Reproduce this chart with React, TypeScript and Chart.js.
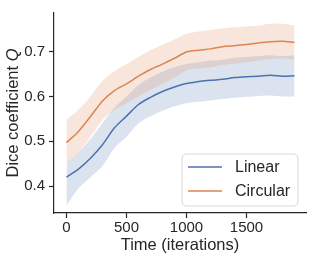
import React, { useEffect, useRef } from "react";
import { Chart, registerables } from "chart.js";

Chart.register(...registerables);

const iterations = [0, 100, 200, 300, 400, 500, 600, 700, 800, 900, 1000, 1100, 1200, 1300, 1400, 1500, 1600, 1700, 1800, 1900];
const linearMean = [0.420, 0.438, 0.462, 0.492, 0.530, 0.556, 0.582, 0.598, 0.611, 0.621, 0.629, 0.633, 0.636, 0.638, 0.642, 0.644, 0.645, 0.647, 0.645, 0.646];
const linearUpper = [0.452, 0.475, 0.505, 0.540, 0.575, 0.600, 0.625, 0.642, 0.655, 0.665, 0.672, 0.676, 0.680, 0.682, 0.686, 0.688, 0.690, 0.692, 0.690, 0.692];
const linearLower = [0.357, 0.395, 0.420, 0.445, 0.485, 0.510, 0.540, 0.556, 0.568, 0.578, 0.585, 0.588, 0.591, 0.594, 0.597, 0.599, 0.601, 0.602, 0.600, 0.600];
const circularMean = [0.497, 0.522, 0.555, 0.590, 0.613, 0.628, 0.645, 0.660, 0.672, 0.685, 0.699, 0.703, 0.706, 0.711, 0.713, 0.716, 0.719, 0.722, 0.723, 0.720];
const circularUpper = [0.548, 0.570, 0.600, 0.635, 0.656, 0.672, 0.688, 0.703, 0.715, 0.727, 0.740, 0.745, 0.748, 0.752, 0.754, 0.756, 0.758, 0.762, 0.762, 0.758];
const circularLower = [0.452, 0.475, 0.510, 0.548, 0.570, 0.585, 0.600, 0.615, 0.628, 0.642, 0.658, 0.662, 0.665, 0.670, 0.673, 0.676, 0.680, 0.683, 0.685, 0.682];

const seriesNames = ["Linear", "Circular"];
const xTicks = [0, 500, 1000, 1500];
const yTicks = [0.4, 0.5, 0.6, 0.7];
const xTitle = "Time (iterations)";
const yTitleMain = "Dice coefficient ";
const yTitleVar = "Q";

const BLUE = "#4c72b0";
const ORANGE = "#dd8452";
const INK = "#262626";
const FONT = "'Liberation Sans', Arial, sans-serif";

const pts = (arr: number[]) => arr.map((v, i) => ({ x: iterations[i], y: v }));

export default function App() {
  const ref = useRef<HTMLCanvasElement>(null);
  useEffect(() => {
    document.body.style.margin = "0";
    const canvas = ref.current!;
    const overlay = {
      id: "overlay",
      afterDraw(chart: any) {
        const ctx = chart.ctx as CanvasRenderingContext2D;
        const area = chart.chartArea;
        ctx.save();
        ctx.fillStyle = INK;
        ctx.font = `16.5px ${FONT}`;
        ctx.textAlign = "center";
        ctx.textBaseline = "middle";
        ctx.fillText(xTitle, (area.left + area.right) / 2, 245);
        ctx.translate(13, (area.top + area.bottom) / 2);
        ctx.rotate(-Math.PI / 2);
        ctx.font = `16.5px ${FONT}`;
        const w1 = ctx.measureText(yTitleMain).width;
        ctx.font = `italic 16.5px ${FONT}`;
        const w2 = ctx.measureText(yTitleVar).width;
        const start = -(w1 + w2) / 2;
        ctx.textAlign = "left";
        ctx.font = `16.5px ${FONT}`;
        ctx.fillText(yTitleMain, start, 0);
        ctx.font = `italic 16.5px ${FONT}`;
        ctx.fillText(yTitleVar, start + w1, 0);
        ctx.restore();

        ctx.save();
        const lx = 182, ly = 154, lw = 116, lh = 52, r = 4;
        ctx.beginPath();
        ctx.moveTo(lx + r, ly);
        ctx.lineTo(lx + lw - r, ly);
        ctx.quadraticCurveTo(lx + lw, ly, lx + lw, ly + r);
        ctx.lineTo(lx + lw, ly + lh - r);
        ctx.quadraticCurveTo(lx + lw, ly + lh, lx + lw - r, ly + lh);
        ctx.lineTo(lx + r, ly + lh);
        ctx.quadraticCurveTo(lx, ly + lh, lx, ly + lh - r);
        ctx.lineTo(lx, ly + r);
        ctx.quadraticCurveTo(lx, ly, lx + r, ly);
        ctx.closePath();
        ctx.fillStyle = "rgba(255,255,255,0.8)";
        ctx.fill();
        ctx.strokeStyle = "#d9d9d9";
        ctx.lineWidth = 1;
        ctx.stroke();
        const colors = [BLUE, ORANGE];
        const ys = [167, 191];
        ctx.font = `16px ${FONT}`;
        ctx.textAlign = "left";
        ctx.textBaseline = "middle";
        seriesNames.forEach((name, i) => {
          ctx.strokeStyle = colors[i];
          ctx.lineWidth = 1.5;
          ctx.beginPath();
          ctx.moveTo(188, ys[i]);
          ctx.lineTo(222, ys[i]);
          ctx.stroke();
          ctx.fillStyle = INK;
          ctx.fillText(name, 235, ys[i] + 1);
        });
        ctx.restore();
      },
    };

    const chart = new Chart(canvas, {
      type: "line",
      data: {
        datasets: [
          { data: pts(linearMean), borderColor: BLUE, borderWidth: 1.5, pointRadius: 0, fill: false, order: 0, tension: 0.3 },
          { data: pts(circularMean), borderColor: ORANGE, borderWidth: 1.5, pointRadius: 0, fill: false, order: 0, tension: 0.3 },
          { data: pts(linearUpper), borderWidth: 0, borderColor: "rgba(0,0,0,0)", backgroundColor: "rgba(76,114,176,0.2)", pointRadius: 0, fill: "+1", order: 2, tension: 0.3 },
          { data: pts(linearLower), borderWidth: 0, borderColor: "rgba(0,0,0,0)", pointRadius: 0, fill: false, order: 2, tension: 0.3 },
          { data: pts(circularUpper), borderWidth: 0, borderColor: "rgba(0,0,0,0)", backgroundColor: "rgba(221,132,82,0.2)", pointRadius: 0, fill: "+1", order: 1, tension: 0.3 },
          { data: pts(circularLower), borderWidth: 0, borderColor: "rgba(0,0,0,0)", pointRadius: 0, fill: false, order: 1, tension: 0.3 },
        ],
      },
      options: {
        animation: false,
        responsive: false,
        maintainAspectRatio: false,
        layout: { padding: { left: 0, top: 10, right: 10, bottom: 0 } },
        plugins: { legend: { display: false }, tooltip: { enabled: false } },
        scales: {
          x: {
            type: "linear",
            min: -104,
            max: 1996,
            afterBuildTicks: (s: any) => { s.ticks = xTicks.map((v) => ({ value: v })); },
            afterFit: (s: any) => { s.height = 49; },
            grid: { drawOnChartArea: false, drawTicks: true, tickLength: 5, tickColor: INK, tickWidth: 1.2 },
            border: { display: true, color: INK, width: 1.2 },
            ticks: { color: INK, font: { family: FONT, size: 15 }, padding: 1, maxRotation: 0, autoSkip: false, callback: (v: any) => String(v) },
          },
          y: {
            type: "linear",
            min: 0.34,
            max: 0.786,
            afterBuildTicks: (s: any) => { s.ticks = yTicks.map((v) => ({ value: v })); },
            afterFit: (s: any) => { s.width = 54; },
            grid: { drawOnChartArea: false, drawTicks: true, tickLength: 5, tickColor: INK, tickWidth: 1.2 },
            border: { display: true, color: INK, width: 1.2 },
            ticks: { color: INK, font: { family: FONT, size: 15 }, padding: 4, callback: (v: any) => Number(v).toFixed(1) },
          },
        },
      },
      plugins: [overlay],
    } as any);
    return () => chart.destroy();
  }, []);
  return <canvas ref={ref} width={316} height={262} style={{ display: "block" }} />;
}
